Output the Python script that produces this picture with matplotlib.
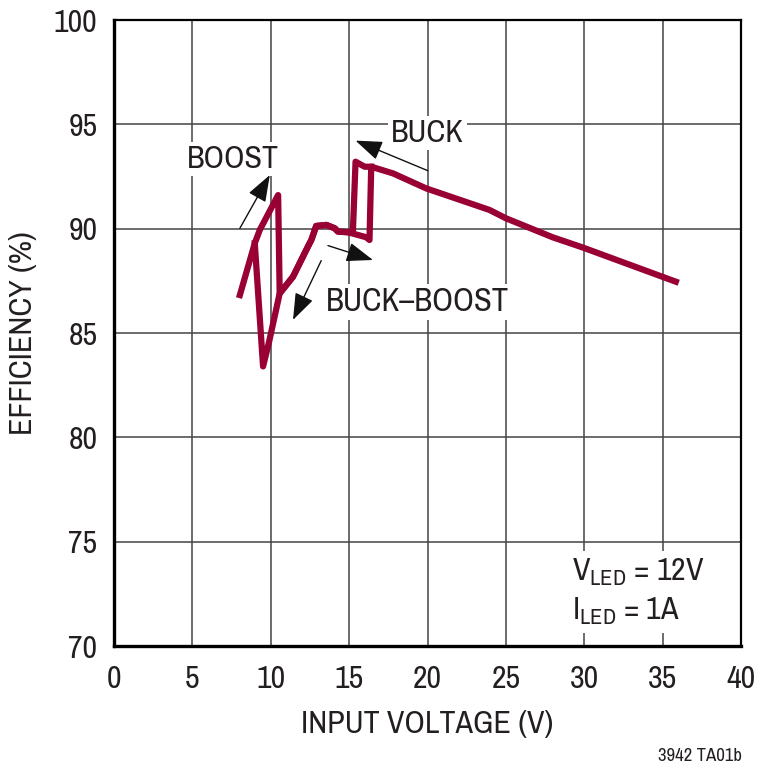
import matplotlib
matplotlib.use('Agg')
import matplotlib.pyplot as plt

plt.rcParams['font.family'] = ['Archivo Narrow', 'DejaVu Sans']
plt.rcParams['mathtext.fontset'] = 'custom'
plt.rcParams['mathtext.rm'] = 'Archivo Narrow'
plt.rcParams['mathtext.default'] = 'rm'

# rising input voltage: boost -> buck-boost -> buck
up_v = [8.03, 8.98, 9.3, 10.47, 10.57, 11.42, 12.37, 12.59, 12.9, 13.55, 14.08, 14.29,
        14.92, 16.09, 16.3, 16.41, 17.8, 19.92, 23.95, 25.0, 27.98, 29.9, 35.84]
up_e = [86.82, 89.3, 89.94, 91.61, 86.9, 87.7, 89.14, 89.46, 90.13, 90.18, 90.02, 89.86,
        89.83, 89.59, 89.46, 92.97, 92.65, 91.93, 90.9, 90.5, 89.59, 89.1, 87.46]

# falling input voltage: buck -> buck-boost -> boost
down_v = [16.41, 15.99, 15.41, 15.24, 14.92, 14.29, 14.08, 13.55, 12.9, 12.59, 12.37,
          11.42, 10.57, 9.9, 9.51, 8.98]
down_e = [92.97, 92.97, 93.21, 89.86, 89.83, 89.86, 90.02, 90.18, 90.13, 89.46, 89.14,
          87.7, 86.9, 84.6, 83.4, 89.3]

x_ticks = [0, 5, 10, 15, 20, 25, 30, 35, 40]
y_ticks = [70, 75, 80, 85, 90, 95, 100]

line_color = '#990033'
ink = '#231f20'

fig = plt.figure(figsize=(7.6, 7.7), dpi=100)
ax = fig.add_axes([0.15, 0.161, 0.825, 0.813])

ax.plot(up_v, up_e, color=line_color, lw=4.5, solid_joinstyle='round', zorder=3)
ax.plot(down_v, down_e, color=line_color, lw=4.5, solid_joinstyle='round', zorder=3)

ax.set_xlim(0, 40)
ax.set_ylim(70, 100)
ax.set_xticks(x_ticks)
ax.set_yticks(y_ticks)
ax.tick_params(length=0, labelsize=23, colors=ink)
ax.tick_params(axis='x', pad=14)
ax.tick_params(axis='y', pad=12)
ax.grid(True, color='#444444', lw=1.1)
ax.set_axisbelow(True)

for side in ['left', 'bottom']:
    ax.spines[side].set_linewidth(2.4)
for side in ['top', 'right']:
    ax.spines[side].set_linewidth(1.6)

ax.set_xlabel('INPUT VOLTAGE (V)', fontsize=23, color=ink, labelpad=12)
ax.set_ylabel('EFFICIENCY (%)', fontsize=23, color=ink, labelpad=12)

# mode labels
box = dict(facecolor='white', edgecolor='none', pad=2)
ax.text(7.6, 93.35, 'BOOST', fontsize=23, color=ink, ha='center', va='center', bbox=box, zorder=2)
ax.text(20.0, 94.6, 'BUCK', fontsize=23, color=ink, ha='center', va='center', bbox=box, zorder=2)
ax.text(19.35, 86.5, 'BUCK\u2013BOOST', fontsize=23.5, color=ink, ha='center', va='center',
        bbox=box, zorder=2)

arrow = dict(arrowstyle='-|>,head_length=0.55,head_width=0.2', color='#111111', lw=1,
             mutation_scale=30, shrinkA=0, shrinkB=0)
ax.annotate('', xy=(9.94, 92.57), xytext=(8.03, 90.02), arrowprops=arrow, zorder=4)
ax.annotate('', xy=(15.41, 94.22), xytext=(20.02, 92.78), arrowprops=arrow, zorder=4)
ax.annotate('', xy=(16.52, 88.5), xytext=(13.65, 89.19), arrowprops=arrow, zorder=4)
ax.annotate('', xy=(11.42, 85.63), xytext=(13.22, 88.47), arrowprops=arrow, zorder=4)

ax.text(29.2, 72.6, '$V_{LED}$ = 12V\n$I_{LED}$ = 1A', fontsize=23, color=ink, ha='left',
        va='center', linespacing=1.35,
        bbox=dict(facecolor='white', edgecolor='none', pad=4), zorder=2)

fig.text(0.976, 0.008, '3942 TA01b', fontsize=13.5, ha='right', va='bottom', color=ink)

fig.savefig('out.png', dpi=100)
